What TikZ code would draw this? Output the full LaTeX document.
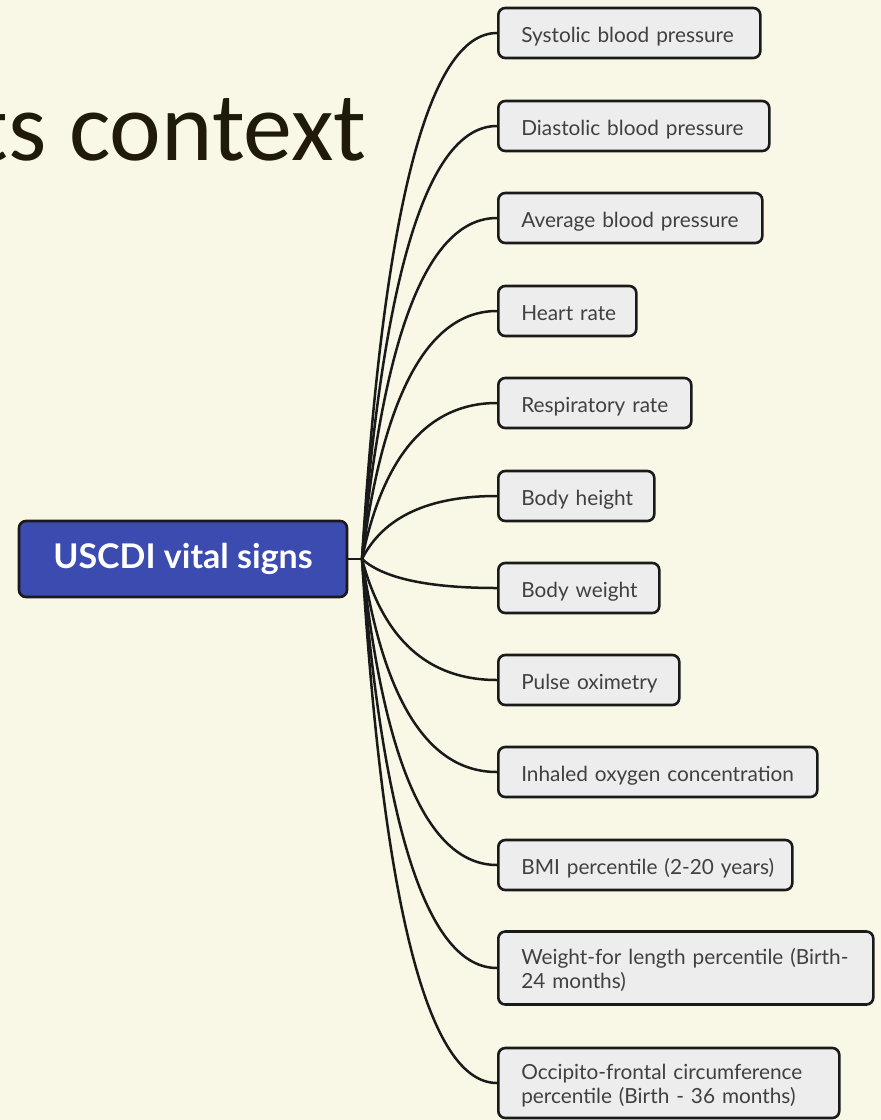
\documentclass[tikz,border=0pt]{standalone}
\usepackage{fontspec}
\setmainfont{Lato}
\newfontfamily\titlefont{Carlito}
\usetikzlibrary{calc}
\definecolor{paper}{HTML}{F9F8E7}
\definecolor{hubblue}{HTML}{3B4BAF}
\definecolor{leaffill}{HTML}{EDEDED}
\definecolor{leaftext}{HTML}{404040}
\definecolor{ink}{HTML}{1A1A1A}
\definecolor{titleink}{HTML}{1F1A0A}
\begin{document}
\begin{tikzpicture}[x=1pt,y=-1pt,
  leaf/.style={draw=ink, line width=2.6pt, fill=leaffill, rounded corners=7pt,
    anchor=west, inner xsep=23pt, inner ysep=0pt, minimum height=50pt,
    text width=#1, align=left, text=leaftext, text height=18pt, text depth=0pt,
    font=\fontsize{20.8}{24}\selectfont},
  twoline/.style={text height=18pt, text depth=26pt},
  root/.style={draw=ink, line width=2.6pt, fill=hubblue, rounded corners=7pt,
    minimum width=328pt, minimum height=76pt, text=white,
    font=\bfseries\fontsize{34}{36}\selectfont},
  link/.style={draw=ink, line width=2.5pt}]
  % page
  \fill[paper] (0,0) rectangle (881,1120);
  \useasboundingbox (0,0) rectangle (881,1120);

  % heading
  \node[anchor=base east, inner sep=0pt, text=titleink,
        font=\titlefont\fontsize{98}{100}\selectfont] (title) at (367,160) {ts context};

  % central topic
  \node[root] (vs) at (183,559) {USCDI vital signs};
  \coordinate (hub) at (362,559);
  \coordinate (kx) at (394,0);
  \draw[link] (vs.east) -- (hub);

  % leaves
  \node[leaf=216pt] (sbp) at (497,33)  {\mbox{Systolic blood pressure}};
  \node[leaf=225pt] (dbp) at (497,126) {\mbox{Diastolic blood pressure}};
  \node[leaf=218pt] (abp) at (497,218) {\mbox{Average blood pressure}};
  \node[leaf=92pt]  (hr)  at (497,311) {\mbox{Heart rate}};
  \node[leaf=147pt] (rr)  at (497,403) {\mbox{Respiratory rate}};
  \node[leaf=110pt] (bh)  at (497,496) {\mbox{Body height}};
  \node[leaf=115pt] (bw)  at (497,588) {\mbox{Body weight}};
  \node[leaf=135pt] (po)  at (497,680) {\mbox{Pulse oximetry}};
  \node[leaf=273pt] (ioc) at (497,772) {\mbox{Inhaled oxygen concentration}};
  \node[leaf=248pt] (bmi) at (497,865) {\mbox{BMI percentile (2-20 years)}};
  \node[leaf=329pt, twoline, minimum height=73pt] (wfl) at (497,968)
       {\mbox{Weight-for length percentile (Birth-}\\24 months)};
  \node[leaf=295pt, twoline, minimum height=70pt] (ofc) at (497,1083)
       {\mbox{Occipito-frontal circumference}\\percentile (Birth - 36 months)};

  % branches from the hub to every leaf
  \foreach \n in {sbp,dbp,abp,hr,rr,bh,bw,po,ioc,bmi,wfl,ofc}{
    \draw[link] (hub) .. controls ($(hub)!2/3!(\n.west -| kx)$)
                          and ($(\n.west)!2/3!(\n.west -| kx)$) .. (\n.west);
  }
\end{tikzpicture}
\end{document}
